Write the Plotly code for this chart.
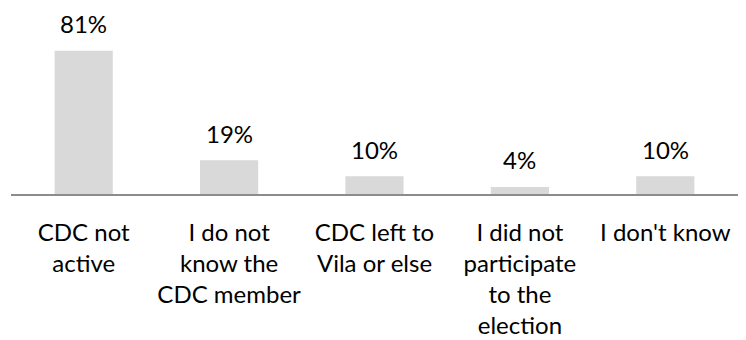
import plotly.graph_objects as go

categories = ["CDC not<br>active", "I do not<br>know the<br>CDC member", "CDC left to<br>Vila or else",
              "I did not<br>participate<br>to the<br>election", "I don't know"]
values = [81, 19, 10, 4, 10]
value_labels = ["81%", "19%", "10%", "4%", "10%"]

FONT = "Lato, 'Open Sans', sans-serif"
fig = go.Figure()
fig.add_trace(go.Bar(x=list(range(len(categories))), y=values, marker_color="#d9d9d9",
                     marker_line_width=0, hoverinfo="skip"))
for i, (v, t) in enumerate(zip(values, value_labels)):
    fig.add_annotation(x=i, y=v, text=t, showarrow=False, yanchor="middle", yshift=27,
                       font=dict(family=FONT, size=24, color="#000000"))

# page body has an 8px margin, so the figure is sized 738x332
fig.update_layout(
    width=738, height=332,
    margin=dict(l=3, r=8, t=9, b=146),
    paper_bgcolor="white", plot_bgcolor="white",
    bargap=0.6, showlegend=False,
    font=dict(family=FONT, size=24, color="#000000"),
)
fig.update_xaxes(tickmode="array", tickvals=list(range(len(categories))), ticktext=categories,
                 range=[-0.5, len(categories) - 0.5], showline=True, linecolor="#8c8c8c", linewidth=2,
                 ticks="", showgrid=False, zeroline=False, ticklabelstandoff=16, automargin=False,
                 tickfont=dict(family=FONT, size=24, color="#000000"))
fig.update_yaxes(range=[0, 100], visible=False, showgrid=False, zeroline=False, automargin=False)
fig.write_html("out.html")
